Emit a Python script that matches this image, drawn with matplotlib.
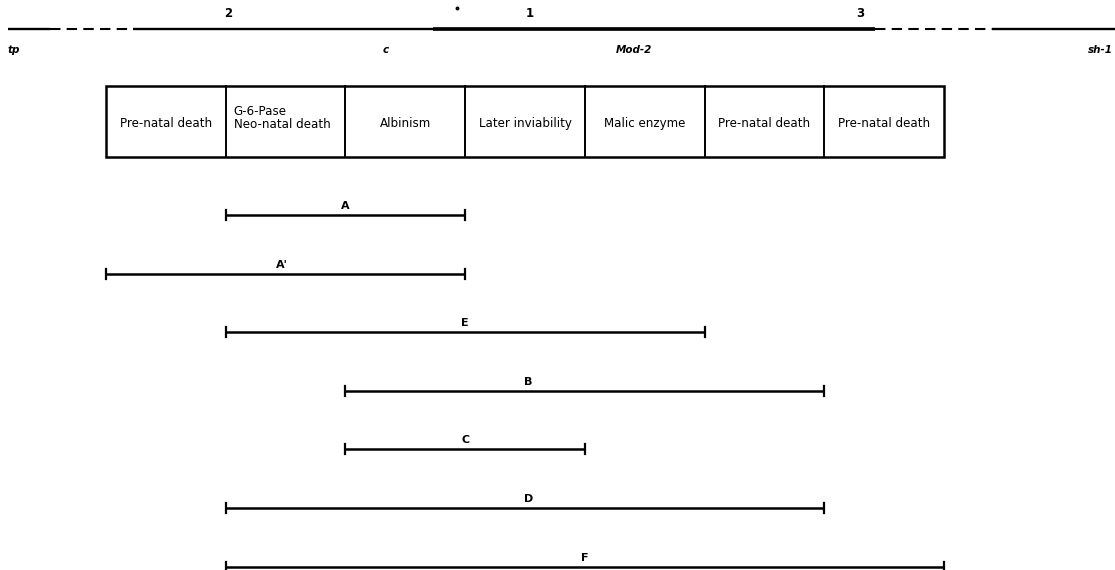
import matplotlib
matplotlib.use('Agg')
import matplotlib.pyplot as plt

# chromosome line: (start, end, style) in pixel-like x units
chrom_segments = [(8, 50, 'solid'), (50, 133, 'dashed'), (133, 875, 'solid'),
                  (875, 992, 'dashed'), (992, 1115, 'solid')]
thick_from = 433

region_numbers = ['2', '1', '3']
region_x = [228, 530, 860]

loci = ['tp', 'c', 'Mod-2', 'sh-1']
loci_x = [14, 386, 634, 1105]

box_labels = ['Pre-natal death', 'G-6-Pase\nNeo-natal death', 'Albinism',
              'Later inviability', 'Malic enzyme', 'Pre-natal death', 'Pre-natal death']

deletions = ['A', "A'", 'E', 'B', 'C', 'D', 'F']
del_start = [1, 0, 1, 2, 2, 1, 1]
del_end = [3, 3, 5, 6, 4, 6, 7]
del_label_pos = [2.0, 1.47, 3.0, 3.53, 3.0, 3.53, 4.0]

box_left = 106
box_w = 119.7
box_top, box_bot = 86, 157
line_y = 29
bar_y0, bar_dy = 215, 58.6

fig = plt.figure(figsize=(11.15, 5.70), dpi=100)
ax = fig.add_axes([0, 0, 1, 1])
ax.set_xlim(0, 1115)
ax.set_ylim(570, 0)
ax.axis('off')

for x0, x1, st in chrom_segments:
    if st == 'dashed':
        ax.plot([x0, x1], [line_y, line_y], color='black', lw=1.5, ls=(0, (5, 3)))
    else:
        ax.plot([x0, x1], [line_y, line_y], color='black', lw=1.7, solid_capstyle='butt')
ax.plot([thick_from, 875], [line_y, line_y], color='black', lw=2.6, solid_capstyle='butt')
ax.plot([457], [8], marker='o', ms=1.8, color='black')

for n, x in zip(region_numbers, region_x):
    ax.text(x, 20, n, ha='center', va='bottom', fontsize=8.5, fontweight='bold')

for name, x in zip(loci, loci_x):
    ha = 'left' if x < 50 else ('right' if x > 1080 else 'center')
    if ha == 'left':
        x = 8
    if ha == 'right':
        x = 1113
    ax.text(x, 50, name, ha=ha, va='center', fontsize=7.5, fontstyle='italic', fontweight='bold')

n_box = len(box_labels)
ax.add_patch(plt.Rectangle((box_left, box_top), box_w * n_box, box_bot - box_top,
                           fill=False, lw=1.8, ec='black'))
for i in range(1, n_box):
    xe = box_left + i * box_w
    ax.plot([xe, xe], [box_top, box_bot], color='black', lw=1.4)
for i, lab in enumerate(box_labels):
    xc = box_left + (i + 0.5) * box_w
    if '\n' in lab:
        ax.text(box_left + i * box_w + 8, 118, lab, ha='left', va='center',
                fontsize=8.6, linespacing=0.95)
    else:
        ax.text(xc, 127, lab, ha='center', va='baseline', fontsize=8.6)

for k, (name, s, e, lp) in enumerate(zip(deletions, del_start, del_end, del_label_pos)):
    y = bar_y0 + k * bar_dy
    x0 = box_left + s * box_w
    x1 = box_left + e * box_w
    ax.plot([x0, x1], [y, y], color='black', lw=1.8, solid_capstyle='butt')
    for xe in (x0, x1):
        ax.plot([xe, xe], [y - 5, y + 5], color='black', lw=1.6)
    ax.text(box_left + lp * box_w, y - 4, name, ha='center', va='bottom',
            fontsize=8, fontweight='bold')

fig.savefig('out.png', dpi=100, facecolor='white')
